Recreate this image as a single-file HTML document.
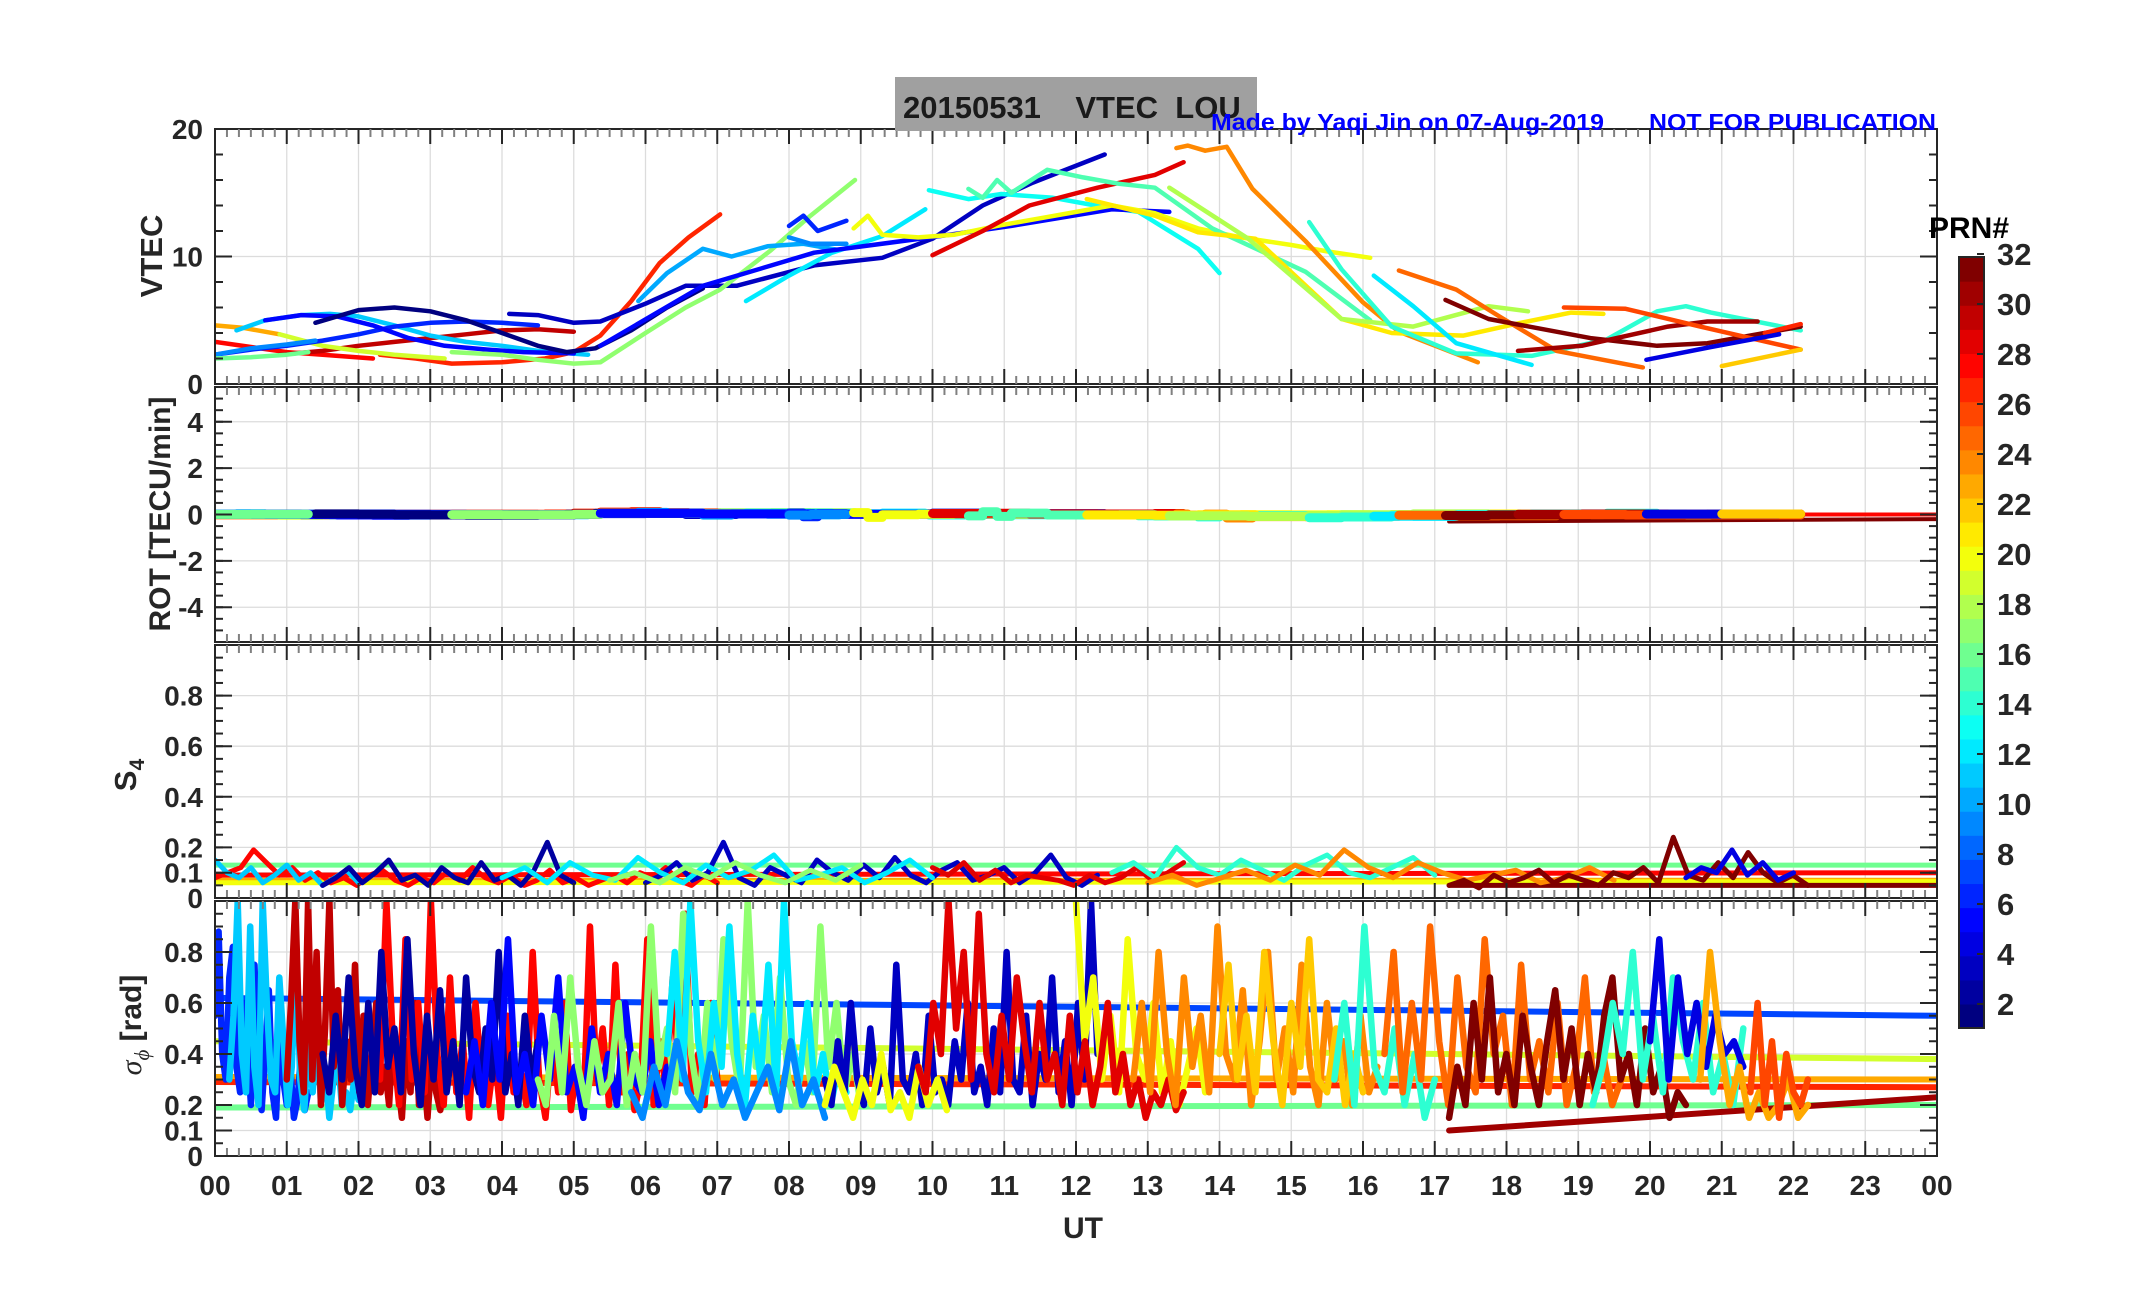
<!DOCTYPE html>
<html><head><meta charset="utf-8"><title>20150531 VTEC LOU</title>
<style>
html,body{margin:0;padding:0;background:#fff;}
svg text{font-family:"Liberation Sans",Arial,sans-serif;font-weight:bold;}
</style></head>
<body>
<svg id="chart" xmlns="http://www.w3.org/2000/svg" width="2153" height="1286" viewBox="0 0 2153 1286">
<rect x="0" y="0" width="2153" height="1286" fill="#fff"/>
<g id="grid"></g>
<g id="series"></g>
<g id="axes"></g>
<rect x="895" y="77" width="362" height="54" fill="#a0a0a0"/>
<text x="903" y="118" font-size="31" fill="#1a1a1a" xml:space="preserve">20150531    VTEC  LOU</text>
<text x="1211" y="130" font-size="23" fill="#0000ff" textLength="393" lengthAdjust="spacingAndGlyphs">Made by Yaqi Jin on 07-Aug-2019</text>
<text x="1649" y="130" font-size="23" fill="#0000ff" textLength="287" lengthAdjust="spacingAndGlyphs">NOT FOR PUBLICATION</text>
<text transform="translate(162,256) rotate(-90)" text-anchor="middle" font-size="31" fill="#262626">VTEC</text>
<text transform="translate(170,514) rotate(-90)" text-anchor="middle" font-size="30" fill="#262626">ROT [TECU/min]</text>
<text transform="translate(136,775) rotate(-90)" text-anchor="middle" font-size="31" fill="#262626">S<tspan font-size="21" dy="8">4</tspan></text>
<text transform="translate(141,1025) rotate(-90)" text-anchor="middle" font-size="30" fill="#262626"><tspan font-family="Liberation Serif" font-style="italic" font-weight="normal">σ</tspan><tspan font-size="21" dy="8" font-family="Liberation Serif" font-style="italic" font-weight="normal">ϕ</tspan><tspan dy="-8"> [rad]</tspan></text>
<text x="1083" y="1238" text-anchor="middle" font-size="30" fill="#262626">UT</text>
<text x="1929" y="238" font-size="30" fill="#000">PRN#</text>
<g id="colorbar"></g>
</svg>
<script>
// ---------------- DATA ----------------
const hourLabels = ["00","01","02","03","04","05","06","07","08","09","10","11","12","13","14","15","16","17","18","19","20","21","22","23","00"];
const vtecTicks = [0,10,20];
const rotTicks = [-4,-2,0,2,4];
const s4Ticks = [0,0.1,0.2,0.4,0.6,0.8];
const sigTicks = [0,0.1,0.2,0.4,0.6,0.8];
const cbTicks = [2,4,6,8,10,12,14,16,18,20,22,24,26,28,30,32];

const vtecPrn = [28,27,30,23,19,11,6,9,5,1,3,16,17,10,12,13,5,6,9,20,29,15,24,21,18,14,12,25,32,31,26,27,4,22];
const vtecTime = [
 [0,0.5,1,1.5,2.2],
 [2.3,2.8,3.3,4,4.6,5,5.37,5.8,6.2,6.6,7.04],
 [0.9,1.5,2,2.5,3,3.5,4,4.5,5],
 [0,0.4,0.9],
 [0.9,1.5,2,2.5,3.2],
 [0.3,0.7,1.2,1.6,2,2.5,3,3.5,4,4.5,5.2],
 [0,0.5,1,1.5,2,2.5,3,3.5,4,4.5],
 [0,0.5,1,1.4],
 [0.7,1.2,1.7,2.2,2.7,3.2,3.8,4.3,5],
 [1.4,2,2.5,3,3.5,4,4.5,4.9,5.3,5.8,6.3,6.8],
 [4.1,4.5,5,5.37,6,6.56,7.27,8.35,9.3,10,10.7,11.4,12.4],
 [0,0.5,1,1.3],
 [3.3,4,4.5,5,5.37,6,6.56,7.04,7.75,8.3,8.92],
 [5.9,6.3,6.8,7.2,7.7,8.2,8.7],
 [7.4,8,8.6,9.3,9.9],
 [9.95,10.5,10.96,11.68,12.27,12.87,13.7,14.0],
 [5.37,6.8,8.35,10.1,11.1,12.5,13.3],
 [8.0,8.2,8.4,8.8],
 [8.0,8.3,8.8],
 [8.9,9.1,9.3,9.8,10.3,10.9,11.5,12.1,12.5,13.1,13.7,14.3,15.0,15.5,16.1],
 [10.0,10.7,11.35,12.3,13.1,13.5],
 [10.5,10.7,10.9,11.1,11.6,12.1,12.6,13.1,13.9,15.2,16.1],
 [13.4,13.56,13.8,14.1,14.46,15.2,16.0,16.5,17.6],
 [12.15,13.1,13.7,14.5,15.7,16.4,17.4,18.2,18.9,19.35],
 [13.3,14.4,15.7,16.7,17.75,18.3],
 [15.25,15.7,16.4,17.3,18.35,19.4,20.1,20.5,20.85,22.1],
 [16.15,16.7,17.3,18.35],
 [16.5,17.3,17.9,18.7,19.9],
 [17.15,17.75,19.17,20.1,20.8,22.1],
 [18.16,19.05,20.25,20.8,21.5],
 [18.8,19.66,20.7,22.1],
 [21.6,22.1],
 [19.95,20.85,21.8],
 [21.0,22.1]
];
const vtecVal = [
 [3.3,2.9,2.5,2.3,2.0],
 [2.3,2.0,1.6,1.7,2.0,2.5,3.8,6.5,9.5,11.5,13.3],
 [2.3,2.6,3.0,3.3,3.6,3.9,4.2,4.3,4.1],
 [4.6,4.4,3.9],
 [3.9,3.0,2.6,2.3,2.0],
 [4.2,5.0,5.4,5.5,5.3,4.6,3.8,3.3,3.0,2.6,2.3],
 [2.3,2.7,3.0,3.4,3.9,4.5,4.8,4.9,4.8,4.6],
 [2.3,2.8,3.1,3.4],
 [5.0,5.4,5.3,4.6,3.6,3.0,2.7,2.5,2.4],
 [4.8,5.8,6.0,5.7,5.0,4.0,3.0,2.5,2.8,4.2,6.0,7.5],
 [5.5,5.4,4.8,4.9,6.3,7.7,7.7,9.3,9.9,11.4,14.0,15.8,18.0],
 [2.0,2.1,2.3,2.5],
 [2.5,2.3,1.9,1.6,1.7,4.0,6.0,7.4,10.5,13.2,16.0],
 [6.5,8.7,10.6,10.0,10.8,11.0,10.5],
 [6.5,8.5,10.3,11.6,13.7],
 [15.2,14.5,14.9,14.6,14.0,13.5,10.6,8.7],
 [3.0,7.7,10.3,11.6,12.4,13.7,13.5],
 [12.4,13.2,12.0,12.8],
 [11.5,11.0,11.0],
 [12.2,13.2,11.7,11.5,11.7,12.4,13.0,13.6,14.0,13.4,12.2,11.5,10.9,10.4,9.9],
 [10.1,12.0,14.0,15.4,16.4,17.4],
 [15.3,14.6,16.0,15.0,16.8,16.2,15.7,15.4,12.2,8.8,5.0],
 [18.5,18.7,18.3,18.6,15.3,11.2,6.4,4.1,1.7],
 [14.5,13.2,11.9,11.4,5.1,4.0,3.8,4.8,5.6,5.5],
 [15.4,11.4,5.1,4.5,6.1,5.7],
 [12.7,9.0,4.5,2.4,2.2,3.5,5.7,6.1,5.6,4.2],
 [8.5,6.1,3.2,1.5],
 [8.9,7.4,5.3,2.6,1.3],
 [6.6,5.1,3.6,3.0,3.2,4.5],
 [2.6,3.0,4.5,4.9,4.9],
 [6.0,5.9,4.5,2.7],
 [4.0,4.7],
 [1.9,2.9,3.9],
 [1.4,2.7]
];

const rotLinePrn = [28,32];
const rotLineT0 = [0,17.2];
const rotLineV0 = [0.0,-0.3];
const rotLineT1 = [24,24];
const rotLineV1 = [0.0,-0.2];

const s4Prn = [28,11,2,3,12,17,29,14,24,32,4];
const s4Start = [0,0,1.5,6,4,5.5,10,12.5,13,17.2,20.5];
const s4End = [7,2,5,12.3,10,9,13.5,17,19.5,22.2,22];
const s4Val = [
 [0.08,0.10,0.12,0.19,0.14,0.09,0.12,0.07,0.10,0.06,0.08,0.05,0.09,0.11,0.07,0.05,0.08,0.06,0.10,0.07,0.12,0.08,0.06,0.09,0.05,0.07,0.11,0.06,0.08,0.05,0.07,0.09,0.06,0.10,0.08,0.12,0.07,0.05,0.09,0.06],
 [0.15,0.10,0.08,0.12,0.06,0.09,0.13,0.07,0.10,0.05,0.08,0.11,0.06],
 [0.05,0.08,0.12,0.06,0.10,0.15,0.07,0.09,0.05,0.12,0.08,0.06,0.14,0.07,0.09,0.05,0.11,0.22,0.09,0.06],
 [0.06,0.09,0.14,0.07,0.10,0.22,0.08,0.05,0.12,0.09,0.06,0.15,0.10,0.07,0.13,0.08,0.16,0.09,0.06,0.11,0.14,0.07,0.09,0.12,0.06,0.10,0.17,0.08,0.05,0.09],
 [0.08,0.12,0.06,0.14,0.09,0.07,0.16,0.10,0.06,0.13,0.08,0.11,0.17,0.07,0.09,0.12,0.06,0.10,0.15,0.08],
 [0.07,0.10,0.06,0.12,0.08,0.14,0.09,0.06,0.11,0.07,0.13],
 [0.12,0.09,0.14,0.07,0.11,0.06,0.09,0.08,0.07,0.05,0.09,0.06,0.08,0.12,0.07,0.10,0.14],
 [0.10,0.14,0.08,0.20,0.12,0.09,0.15,0.11,0.07,0.13,0.17,0.10,0.08,0.12,0.16,0.09],
 [0.06,0.09,0.05,0.08,0.11,0.07,0.13,0.09,0.19,0.12,0.08,0.14,0.10,0.07,0.09,0.11,0.06,0.08,0.12,0.07],
 [0.05,0.07,0.04,0.09,0.06,0.08,0.11,0.06,0.09,0.07,0.05,0.10,0.08,0.12,0.06,0.24,0.09,0.07,0.14,0.08,0.18,0.10,0.06,0.09,0.05],
 [0.08,0.12,0.10,0.19,0.09,0.14,0.07,0.10]
];
const s4LinePrn = [16,28,23,20,32];
const s4LineV0 = [0.13,0.09,0.07,0.06,0.05];
const s4LineV1 = [0.13,0.10,0.07,0.065,0.05];
const s4LineT0 = [0,0,0,0,17.2];

const sigPrn = [6,11,30,28,2,5,17,12,9,3,20,20,29,24,22,14,25,32,14,4,23,26];
const sigStart = [0,0.2,1.0,2.3,1.5,3.5,4.5,6.3,5.8,8.5,8.5,12.0,9.8,12.8,14.0,15.6,16.3,17.2,19.2,20.0,20.7,21.4];
const sigEnd = [1.3,2.0,3.2,7.0,4.5,6.3,9.0,8.8,8.5,12.3,10.2,13.8,13.5,16.2,16.0,17.0,19.6,20.5,21.3,21.3,22.2,22.2];
const sigVal = [
 [55,88,40,30,70,82,35,25,60,45,20,75,30,18,40,65,25,15,50,30,20,35,15,22,40,18,25],
 [30,55,100,40,25,90,35,20,100,60,30,25,70,45,20,35,80,30,18,45,25,55,20,35,15,30,40,20,25,18,30,22],
 [30,60,100,45,25,100,30,80,20,50,100,35,65,20,45,30,75,25,55,20,40,60,25,35,20,50,30,15,45,25,60,20,35,15,40,25,18,30],
 [30,100,45,20,85,30,60,25,100,40,20,70,25,45,15,60,30,20,40,15,55,25,35,20,80,30,15,45,25,60,18,35,20,90,30,50,20,75,25,40,18,30,85,20,45,25,70,30,95,25,40,20,60,30],
 [40,25,55,30,70,35,20,60,25,80,35,50,25,85,40,20,55,30,65,25,45,20,70,35,25,50,30,80,25,40,20,55,30,45],
 [25,45,20,60,30,85,25,40,20,55,30,70,25,35,15,50,25,40,20,60,30,25,45,20,35],
 [30,20,55,25,70,35,20,45,25,30,60,20,40,25,90,35,50,25,95,40,20,60,30,85,45,25,100,35,55,25,70,30,20,45,25,90,35,60,25,40,20],
 [40,80,30,100,45,25,60,35,90,40,20,55,30,75,25,100,45,30,60,25,40,20,35,25],
 [25,15,35,20,45,25,18,40,20,30,15,25,35,18,45,20,30,15],
 [30,20,45,25,60,30,20,50,25,35,20,75,30,25,40,20,55,25,30,20,45,30,60,25,35,20,50,25,80,30,25,55,20,40,30,70,25,45,20,60,30,100,40],
 [20,35,25,15,30,20,40,18,25,15,35,20,30,18],
 [100,45,70,30,55,25,85,40,30,60,25,45,20,35,50,25],
 [35,25,60,40,100,50,80,30,95,40,25,55,30,70,45,25,60,30,40,20,55,25,45,20,35,60,25,40,20,30,15,25,20,30,18,25],
 [30,60,25,80,40,20,70,35,55,25,90,40,30,65,20,45,80,30,50,25,75,35,20,60,30,45,20,55,25,35],
 [40,75,30,55,25,80,45,20,60,35,85,30,25,50,20,40,25],
 [30,60,20,90,35,25,50,20,40,15,30],
 [40,80,25,60,30,90,45,20,70,35,25,85,40,55,20,75,30,45,25,60,20,35,70,25,40,20,30],
 [15,35,20,60,30,70,25,40,20,55,35,20,45,65,30,50,20,40,25,55,70,30,40,20,50,25,35,15,25,20],
 [20,35,60,40,80,30,55,25,70,45,30,60,25,40,20,50],
 [45,85,30,70,40,60,35,55,40,45,35],
 [30,80,45,20,35,15,25,15,20,30,15,20],
 [25,60,20,45,15,40,25,20,30]
];
const sigLinePrn = [7,19,23,27,16,31];
const sigLineT0 = [0,0,0,0,0,17.2];
const sigLineV0 = [0.62,0.45,0.31,0.29,0.19,0.10];
const sigLineV1 = [0.55,0.38,0.30,0.27,0.20,0.23];

// ---------------- RENDER ----------------
const NS = "http://www.w3.org/2000/svg";
const L = 215, R = 1937;
const panels = [
 {name:"vtec", top:129, bot:384, min:0, max:20},
 {name:"rot", top:387, bot:642, min:-5.5, max:5.5},
 {name:"s4", top:645, bot:898, min:0, max:1},
 {name:"sigma", top:901, bot:1156, min:0, max:1}
];
function xs(h){ return L + h*(R-L)/24; }
function ys(p,v){ return p.bot - (v-p.min)*(p.bot-p.top)/(p.max-p.min); }
function jet(prn){
 const t=(prn-1)/31;
 const c=k=>Math.round(255*Math.max(0,Math.min(1,1.5-Math.abs(4*t-k))));
 return "rgb("+c(3)+","+c(2)+","+c(1)+")";
}
function mk(tag,attrs,parent){
 const e=document.createElementNS(NS,tag);
 for(const k in attrs) e.setAttribute(k,attrs[k]);
 parent.appendChild(e); return e;
}
const gGrid=document.getElementById("grid"), gSer=document.getElementById("series"), gAx=document.getElementById("axes"), svg=document.getElementById("chart");
const defs=mk("defs",{},svg);
panels.forEach((p,i)=>{
 const cp=mk("clipPath",{id:"clip"+i},defs);
 mk("rect",{x:L,y:p.top,width:R-L,height:p.bot-p.top},cp);
});
const gridY = [[10],[-4,-2,0,2,4],[0.1,0.2,0.4,0.6,0.8],[0.1,0.2,0.4,0.6,0.8]];
panels.forEach((p,i)=>{
 for(let h=1;h<24;h++){
  const gl=mk("line",{x1:xs(h),x2:xs(h),y1:p.top,y2:p.bot,stroke:"#dcdcdc","stroke-width":1.3},gGrid);
  
  
 }
 gridY[i].forEach(v=>{
  const gl=mk("line",{x1:L,x2:R,y1:ys(p,v),y2:ys(p,v),stroke:"#dcdcdc","stroke-width":1.3},gGrid);
  
  
 });
});
function poly(pts,color,w,parent,name){
 const e=mk("polyline",{points:pts.map(q=>q[0].toFixed(1)+","+q[1].toFixed(1)).join(" "),fill:"none",stroke:color,"stroke-width":w,"stroke-linejoin":"round","stroke-linecap":"round"},parent);
 
 
 return e;
}
const pg = panels.map((p,i)=>{const g=mk("g",{"clip-path":"url(#clip"+i+")"},gSer);
 
 
 return g;});
vtecPrn.forEach((prn,k)=>{
 const pts=vtecTime[k].map((t,j)=>[xs(t),ys(panels[0],vtecVal[k][j])]);
 poly(pts,jet(prn),4.5,pg[0],'vtec-line-prn'+prn);
});
rotLinePrn.forEach((prn,k)=>{
 poly([[xs(rotLineT0[k]),ys(panels[1],rotLineV0[k])],[xs(rotLineT1[k]),ys(panels[1],rotLineV1[k])]],jet(prn),4,pg[1],'rot-ref-line-prn'+prn);
});
vtecPrn.forEach((prn,k)=>{
 const T=vtecTime[k],V=vtecVal[k],pts=[];
 for(let j=0;j<T.length-1;j++){
  const r=(V[j+1]-V[j])/((T[j+1]-T[j])*60);
  pts.push([xs(T[j]),ys(panels[1],r)]);pts.push([xs(T[j+1]),ys(panels[1],r)]);
 }
 if(pts.length) poly(pts,jet(prn),9,pg[1],'rot-line-prn'+prn);
});
s4LinePrn.forEach((prn,k)=>{
 poly([[xs(s4LineT0[k]),ys(panels[2],s4LineV0[k])],[xs(24),ys(panels[2],s4LineV1[k])]],jet(prn),5,pg[2],'s4-ref-line-prn'+prn);
});
s4Prn.forEach((prn,k)=>{
 const v=s4Val[k],n=v.length;
 const pts=v.map((val,j)=>[xs(s4Start[k]+(s4End[k]-s4Start[k])*j/(n-1)),ys(panels[2],val)]);
 poly(pts,jet(prn),5,pg[2],'s4-line-prn'+prn);
});
sigLinePrn.forEach((prn,k)=>{
 poly([[xs(sigLineT0[k]),ys(panels[3],sigLineV0[k])],[xs(24),ys(panels[3],sigLineV1[k])]],jet(prn),6,pg[3],'sigma-ref-line-prn'+prn);
});
sigPrn.forEach((prn,k)=>{
 const v=sigVal[k],n=v.length;
 const pts=v.map((val,j)=>[xs(sigStart[k]+(sigEnd[k]-sigStart[k])*j/(n-1)),ys(panels[3],val/100)]);
 poly(pts,jet(prn),6.5,pg[3],'sigma-line-prn'+prn);
});
const yMajor=[vtecTicks,rotTicks,[0,0.1,0.2,0.4,0.6,0.8],[0,0.1,0.2,0.4,0.6,0.8]];
const yMinorStep=[2,0.5,0.05,0.05];
const yLabels=[vtecTicks,rotTicks,s4Ticks,sigTicks];
panels.forEach((p,i)=>{
 const box=mk("rect",{x:L,y:p.top,width:R-L,height:p.bot-p.top,fill:"none",stroke:"#262626","stroke-width":2},gAx);
 
 
 for(let m=0;m<=144;m++){
  const x=L+m*(R-L)/144, maj=m%6===0, len=maj?15:8, col=maj?"#262626":"#808080";
  mk("line",{x1:x,x2:x,y1:p.top,y2:p.top+len,stroke:col,"stroke-width":2},gAx);
  mk("line",{x1:x,x2:x,y1:p.bot,y2:p.bot-len,stroke:col,"stroke-width":2},gAx);
 }
 const st=yMinorStep[i];
 for(let v=p.min;v<=p.max+1e-9;v+=st){
  const y=ys(p,v);
  mk("line",{x1:L,x2:L+8,y1:y,y2:y,stroke:"#262626","stroke-width":2},gAx);
  mk("line",{x1:R,x2:R-8,y1:y,y2:y,stroke:"#262626","stroke-width":2},gAx);
 }
 yMajor[i].forEach(v=>{const y=ys(p,v);
  mk("line",{x1:L,x2:L+17,y1:y,y2:y,stroke:"#262626","stroke-width":2},gAx);
  mk("line",{x1:R,x2:R-17,y1:y,y2:y,stroke:"#262626","stroke-width":2},gAx);
 });
 yLabels[i].forEach(v=>{
  const t=mk("text",{x:203,y:ys(p,v)+10,"text-anchor":"end","font-size":28,fill:"#262626"},gAx);
  
  
  t.textContent=String(v);
 });
});
hourLabels.forEach((lab,h)=>{
 const t=mk("text",{x:xs(h),y:1195,"text-anchor":"middle","font-size":28,fill:"#262626"},gAx);
 
 
 t.textContent=lab;
});
const gCb=document.getElementById("colorbar");
const cbTop=257, cbBot=1028, cbX=1959, cbW=25;
for(let i=1;i<=32;i++){
 const h=(cbBot-cbTop)/32;
 const r=mk("rect",{x:cbX,y:cbBot-i*h,width:cbW,height:h+0.6,fill:jet(i)},gCb);
 
 
}
const cbOut=mk("rect",{x:cbX,y:cbTop,width:cbW,height:cbBot-cbTop,fill:"none",stroke:"#262626","stroke-width":2},gCb);


function cbY(v){ return 1004-(v-2)*25; }
cbTicks.forEach(v=>{
 mk("line",{x1:cbX+cbW-7,x2:cbX+cbW,y1:cbY(v),y2:cbY(v),stroke:"#262626","stroke-width":2},gCb);
 const t=mk("text",{x:1997,y:cbY(v)+11,"font-size":31,fill:"#262626"},gCb);
 
 
 t.textContent=String(v);
});
</script>
</body></html>
